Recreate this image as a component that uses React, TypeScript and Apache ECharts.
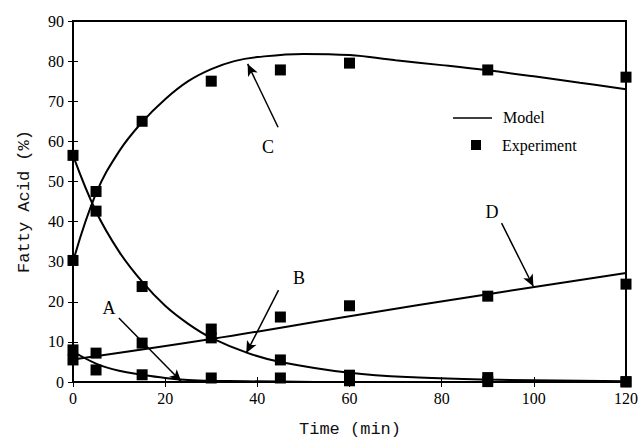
import React, { useEffect, useRef } from "react";
import * as echarts from "echarts";

// Experimental times (min)
const expTimes = [0, 5, 15, 30, 45, 60, 90, 120];
// Experimental values (%)
const expA = [8.0, 3.0, 1.8, 1.0, 1.0, 0.3, 0.1, 0.0];
const expB = [56.5, 42.6, 23.8, 11.0, 5.5, 1.7, 1.1, 0.1];
const expC = [30.3, 47.5, 65.0, 75.0, 77.8, 79.5, 77.8, 76.0];
const expD = [5.5, 7.2, 9.7, 13.2, 16.2, 19.0, 21.4, 24.4];

// Model curves
const modelTA = [0, 5, 10, 15, 20, 25, 30, 45, 60, 90, 120];
const modelA = [7.6, 4.6, 2.8, 1.8, 1.0, 0.5, 0.3, 0.1, 0.0, 0.0, 0.0];
const modelTB = [0, 5, 10, 15, 20, 25, 30, 38, 45, 60, 75, 90, 120];
const modelB = [56.5, 42.5, 32.5, 25.0, 19.0, 14.5, 11.0, 7.2, 5.0, 2.3, 1.1, 0.6, 0.2];
const modelTC = [0, 5, 10, 15, 20, 25, 30, 35, 40, 50, 60, 70, 80, 90, 100, 110, 120];
const modelC = [30.0, 47.0, 57.5, 64.8, 70.5, 75.0, 78.0, 80.0, 81.0, 81.8, 81.5, 80.2, 79.0, 77.7, 76.2, 74.6, 73.0];
const modelTD = [0, 30, 60, 90, 120];
const modelD = [5.6, 10.7, 16.4, 21.9, 27.2];

const xTicks = { min: 0, max: 120, interval: 20 };
const yTicks = { min: 0, max: 90, interval: 10 };

const xTitle = "Time (min)";
const yTitle = "Fatty Acid (%)";

const pair = (xs: number[], ys: number[]) => xs.map((x, i) => [x, ys[i]]);

const arrows = [
  { from: [9.95, 15.96], to: [23.5, 0.1] },
  { from: [44.6, 22.9], to: [37.6, 7.2] },
  { from: [44.5, 63.5], to: [37.9, 79.3] },
  { from: [93.0, 39.6], to: [99.9, 23.8] },
];

const SERIF = "'Liberation Serif', 'Times New Roman', serif";
const MONO = "'Liberation Mono', monospace";

export default function App() {
  const ref = useRef<HTMLDivElement>(null);
  useEffect(() => {
    document.body.style.margin = "0";
    const chart = echarts.init(ref.current!, null, { renderer: "svg" });
    const lineStyle = { color: "#000", width: 2 };
    const modelSeries = [
      pair(modelTA, modelA),
      pair(modelTB, modelB),
      pair(modelTC, modelC),
      pair(modelTD, modelD),
    ].map((d) => ({
      type: "line",
      name: "Model",
      data: d,
      smooth: 0.4,
      showSymbol: false,
      lineStyle,
      z: 2,
    }));
    const expData = [expA, expB, expC, expD].flatMap((ys) => pair(expTimes, ys));
    const option: any = {
      animation: false,
      grid: {
        left: 73,
        right: 13,
        top: 21,
        bottom: 56,
        show: true,
        borderColor: "#000",
        borderWidth: 2,
        backgroundColor: "transparent",
      },
      xAxis: [
        {
          type: "value",
          ...xTicks,
          axisLine: { lineStyle: { color: "#000", width: 2 } },
          axisTick: { show: true, length: 5, inside: false, lineStyle: { color: "#000" } },
          axisLabel: { fontFamily: SERIF, fontSize: 16, color: "#000", margin: 8 },
          splitLine: { show: false },
        },
        {
          type: "value",
          ...xTicks,
          position: "bottom",
          axisLine: { show: false },
          axisTick: { show: true, length: 5, inside: true, lineStyle: { color: "#000" } },
          axisLabel: { show: false },
          splitLine: { show: false },
        },
      ],
      yAxis: [
        {
          type: "value",
          ...yTicks,
          name: yTitle,
          nameLocation: "middle",
          nameGap: 40,
          nameTextStyle: { fontFamily: MONO, fontSize: 17, color: "#111", fontWeight: "normal" },
          axisLine: { lineStyle: { color: "#000", width: 2 } },
          axisTick: { show: true, length: 5, inside: false, lineStyle: { color: "#000" } },
          axisLabel: { fontFamily: SERIF, fontSize: 16, color: "#000", margin: 9 },
          splitLine: { show: false },
        },
        {
          type: "value",
          ...yTicks,
          position: "left",
          axisLine: { show: false },
          axisTick: { show: true, length: 5, inside: true, lineStyle: { color: "#000" } },
          axisLabel: { show: false },
          splitLine: { show: false },
        },
      ],
      series: [
        ...modelSeries,
        {
          type: "scatter",
          name: "Experiment",
          data: expData,
          symbol: "rect",
          symbolSize: 11,
          itemStyle: { color: "#000", opacity: 1 },
          z: 3,
          markLine: {
            silent: true,
            symbol: ["none", "arrow"],
            symbolSize: [8, 12],
            label: { show: false },
            lineStyle: { color: "#000", width: 1.5, type: "solid", opacity: 1 },
            data: arrows.map((a) => [
              { coord: a.from },
              { coord: a.to },
            ]),
          },
        },
      ],
      graphic: [
        { type: "text", x: 350, y: 429, style: { text: xTitle, font: `17px ${MONO}`, fill: "#111", textAlign: "center", textVerticalAlign: "middle" } },
        { type: "line", shape: { x1: 453, y1: 118, x2: 492, y2: 118 }, style: { stroke: "#000", lineWidth: 1.5 } },
        { type: "text", x: 503, y: 117, style: { text: "Model", font: `16px ${SERIF}`, fill: "#000", textVerticalAlign: "middle" } },
        { type: "rect", shape: { x: 471, y: 140, width: 10, height: 10 }, style: { fill: "#000" } },
        { type: "text", x: 502, y: 145, style: { text: "Experiment", font: `16px ${SERIF}`, fill: "#000", textVerticalAlign: "middle" } },
        { type: "text", x: 109, y: 308, style: { text: "A", font: `18px ${SERIF}`, fill: "#000", textAlign: "center", textVerticalAlign: "middle" } },
        { type: "text", x: 299, y: 278, style: { text: "B", font: `18px ${SERIF}`, fill: "#000", textAlign: "center", textVerticalAlign: "middle" } },
        { type: "text", x: 268, y: 147, style: { text: "C", font: `18px ${SERIF}`, fill: "#000", textAlign: "center", textVerticalAlign: "middle" } },
        { type: "text", x: 492, y: 212, style: { text: "D", font: `18px ${SERIF}`, fill: "#000", textAlign: "center", textVerticalAlign: "middle" } },
      ],
    };
    chart.setOption(option);
    return () => chart.dispose();
  }, []);
  return <div ref={ref} style={{ width: 641, height: 438 }} />;
}
